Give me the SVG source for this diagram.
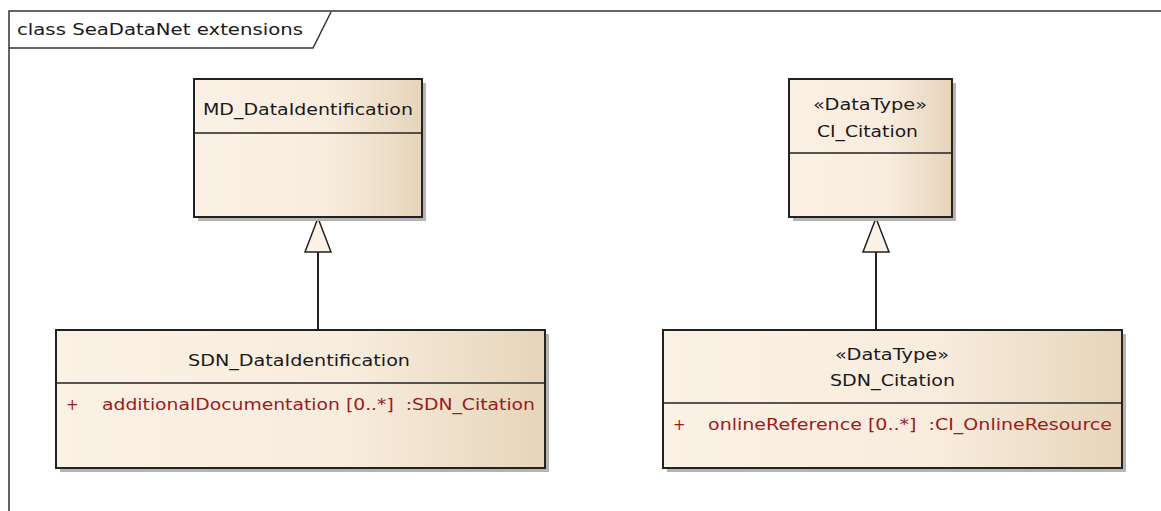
<svg xmlns="http://www.w3.org/2000/svg" width="1161" height="511" viewBox="0 0 1161 511">
<defs>
<linearGradient id="g" x1="0" y1="0" x2="1" y2="0">
<stop offset="0" stop-color="#FBF1E4"/>
<stop offset="0.6" stop-color="#F8ECDD"/>
<stop offset="1" stop-color="#E6D5BA"/>
</linearGradient>
</defs>
<style>
text{font-family:"DejaVu Sans","Liberation Sans",Arial,sans-serif;font-size:15px;fill:#1a1a1a}
.attr{fill:#9B1B1B;white-space:pre}
.box{fill:url(#g);stroke:#222;stroke-width:2}
.shadow{fill:#B4B4B4}
.div{stroke:#222;stroke-width:1.5}
.conn{stroke:#222;stroke-width:2;fill:none}
.tri{fill:#FBF1E4;stroke:#222;stroke-width:1.5}
</style>
<rect width="1161" height="511" fill="#fff"/>
<g id="frame">
<path d="M9,511 V11 H1161" fill="none" stroke="#333" stroke-width="1.5"/>
<path d="M9,48 H313 L331,12" fill="none" stroke="#333" stroke-width="1.5"/>
<text x="17" y="35" textLength="286" lengthAdjust="spacingAndGlyphs">class SeaDataNet extensions</text>
</g>
<g id="connectors">
<line class="conn" x1="318" y1="330" x2="318" y2="252"/>
<polygon class="tri" points="318,218 305,252 331,252"/>
<line class="conn" x1="876" y1="330" x2="876" y2="252"/>
<polygon class="tri" points="876,218 863,252 889,252"/>
</g>
<g id="MD_DataIdentification">
<rect class="shadow" x="198" y="83" width="228" height="138"/>
<rect class="box" x="194" y="79" width="228" height="138"/>
<line class="div" x1="194" y1="133" x2="422" y2="133"/>
<text x="203" y="115" textLength="210" lengthAdjust="spacingAndGlyphs">MD_DataIdentification</text>
</g>
<g id="CI_Citation">
<rect class="shadow" x="793" y="83" width="163" height="138"/>
<rect class="box" x="789" y="79" width="163" height="138"/>
<line class="div" x1="789" y1="153" x2="952" y2="153"/>
<text x="813" y="110" textLength="114" lengthAdjust="spacingAndGlyphs">«DataType»</text>
<text x="817" y="137" textLength="101" lengthAdjust="spacingAndGlyphs">CI_Citation</text>
</g>
<g id="SDN_DataIdentification">
<rect class="shadow" x="60" y="334" width="489" height="138"/>
<rect class="box" x="56" y="330" width="489" height="138"/>
<line class="div" x1="56" y1="383" x2="545" y2="383"/>
<text x="188" y="366" textLength="222" lengthAdjust="spacingAndGlyphs">SDN_DataIdentification</text>
<text class="attr" x="66" y="410">+</text>
<text class="attr" x="102" y="410" textLength="433" lengthAdjust="spacingAndGlyphs" xml:space="preserve">additionalDocumentation [0..*]  :SDN_Citation</text>
</g>
<g id="SDN_Citation">
<rect class="shadow" x="667" y="334" width="459" height="138"/>
<rect class="box" x="663" y="330" width="459" height="138"/>
<line class="div" x1="663" y1="403" x2="1122" y2="403"/>
<text x="835" y="360" textLength="114" lengthAdjust="spacingAndGlyphs">«DataType»</text>
<text x="830" y="386" textLength="125" lengthAdjust="spacingAndGlyphs">SDN_Citation</text>
<text class="attr" x="673" y="430">+</text>
<text class="attr" x="708" y="430" textLength="404" lengthAdjust="spacingAndGlyphs" xml:space="preserve">onlineReference [0..*]  :CI_OnlineResource</text>
</g>
</svg>
